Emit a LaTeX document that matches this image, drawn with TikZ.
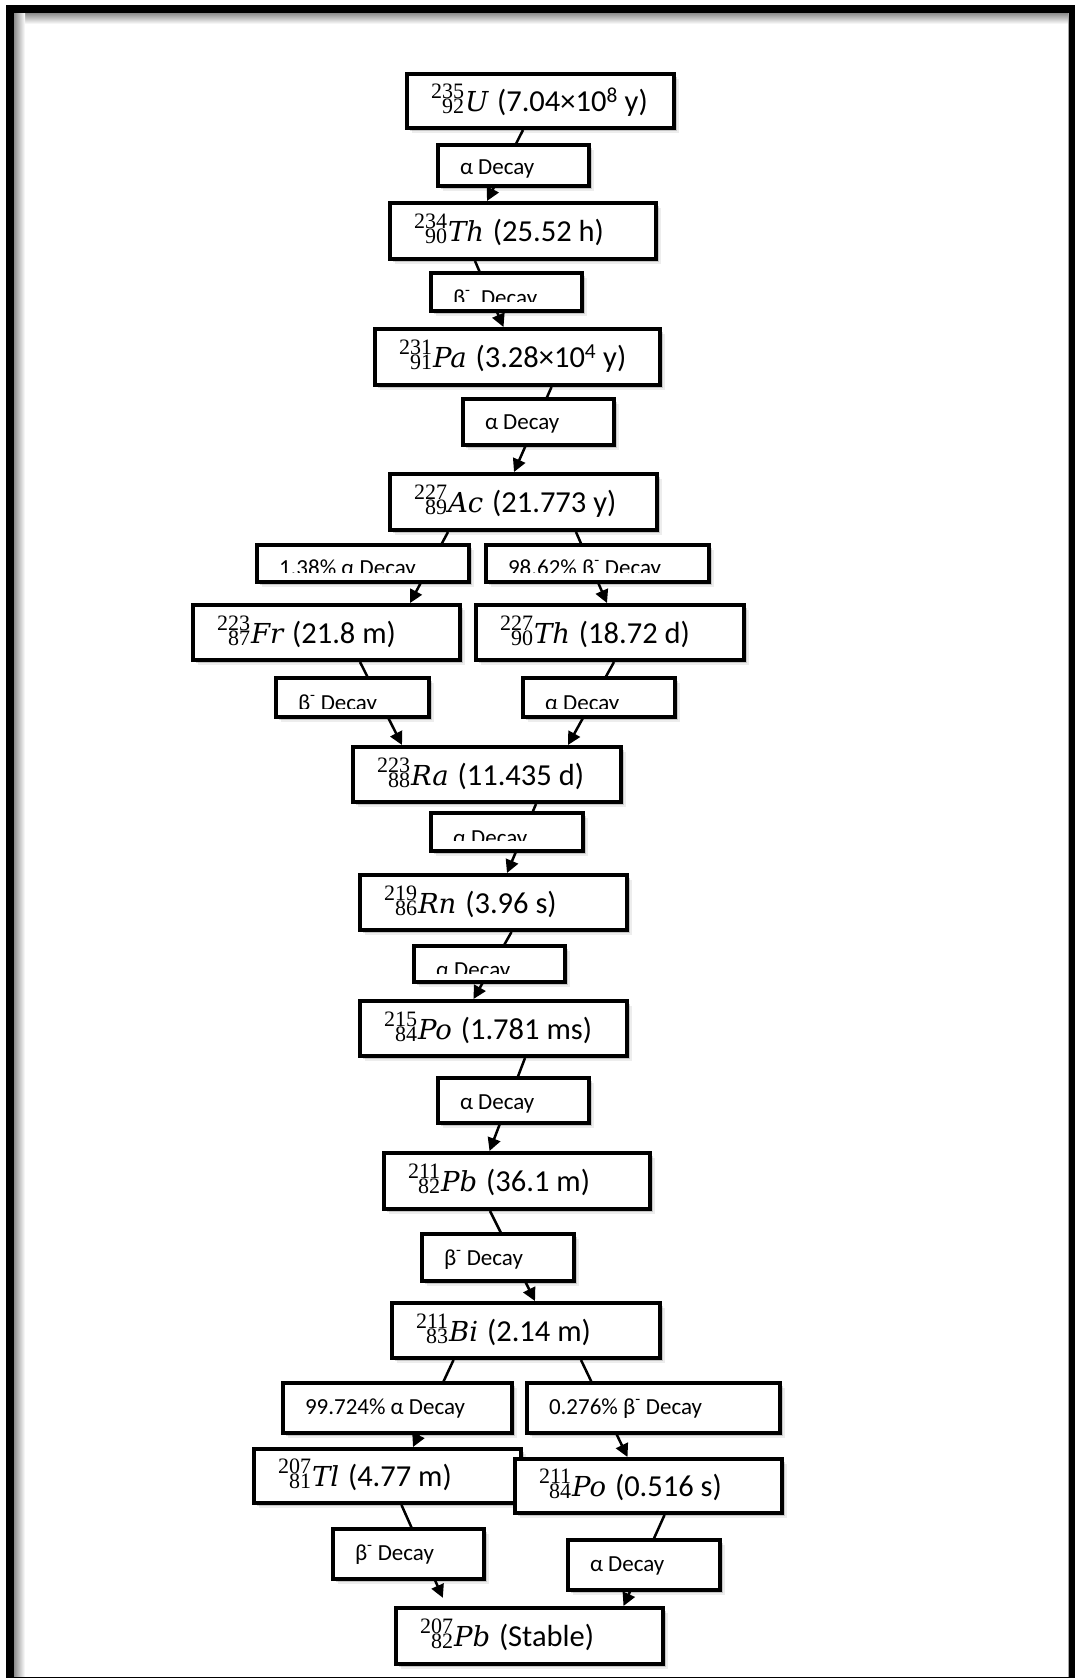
\documentclass[tikz,border=0pt]{standalone}
\usepackage{fontspec}
\newfontfamily\carl{Carlito}
\newfontfamily\lser{Liberation Serif}
\newfontfamily\dser{DejaVu Serif}
\usetikzlibrary{arrows.meta,shadows}
\pgfdeclarelayer{back}\pgfdeclarelayer{bg}\pgfsetlayers{back,bg,main}
\newsavebox\nucA \newsavebox\nucB \newlength\nucw
\newcommand\nuc[3]{{%
 \sbox\nucA{\lser\fontsize{22}{22}\selectfont #1}%
 \sbox\nucB{\lser\fontsize{22}{22}\selectfont #2}%
 \setlength\nucw{\wd\nucA}\ifdim\wd\nucB>\nucw\setlength\nucw{\wd\nucB}\fi
 \makebox[\nucw][r]{\raisebox{13pt}{\usebox\nucA}}\llap{\raisebox{-2pt}{\usebox\nucB}}%
 \kern1pt{\dser\fontsize{27.5}{27.5}\selectfont\itshape #3}\kern2pt}}
\newcommand\bmi{β\textsuperscript{-}}
\tikzset{
 x=1pt,y=-1pt,
 boxshadow/.style={drop shadow={shadow xshift=3pt,shadow yshift=-3pt,opacity=.16,fill=black},
                   drop shadow={shadow xshift=5pt,shadow yshift=-5pt,opacity=.07,fill=black}},
 nucstyle/.style={draw,line width=4pt,fill=white,inner sep=0pt,boxshadow,
                  font=\carl\fontsize{30.5}{36}\selectfont},
 decstyle/.style={draw,line width=3.8pt,fill=white,inner sep=0pt,boxshadow,
                  font=\carl\fontsize{23}{27}\selectfont},
 conn/.style={line width=2.5pt,-{Triangle[length=13pt,width=13pt]}}
}
% name x1 y1 x2 y2 text
\newcommand\nucbox[6]{%
 \pgfmathsetmacro\bxcx{(#2+#4)/2}%
 \pgfmathsetmacro\bxcy{(#3+#5)/2}%
 \pgfmathsetmacro\bxW{#4-#2-4}%
 \pgfmathsetmacro\bxH{#5-#3-4}%
 \node[nucstyle,minimum width=\bxW pt,minimum height=\bxH pt] (#1) at (\bxcx,\bxcy)
 {\raisebox{-10.5pt}[0pt][0pt]{\makebox[\dimexpr\bxW pt-48pt\relax][l]{#6}}};}
% name x1 y1 x2 y2 baseline clip text
\newcommand\decbox[8]{%
 \pgfmathsetmacro\bxcx{(#2+#4)/2}%
 \pgfmathsetmacro\bxcy{(#3+#5)/2}%
 \pgfmathsetmacro\bxW{#4-#2-4}%
 \pgfmathsetmacro\bxH{#5-#3-4}%
 \pgfmathsetmacro\bxdy{#6-\bxcy}%
 \node[decstyle,minimum width=\bxW pt,minimum height=\bxH pt] (#1) at (\bxcx,\bxcy)
 {\raisebox{-\bxdy pt}[0pt][0pt]{\makebox[\dimexpr\bxW pt-44pt\relax][l]{#8}}};
 \ifx&#7&\else\fill[white] (#2+4,#7) rectangle (#4-4,#5-4);\fi}
\begin{document}
\begin{tikzpicture}
\useasboundingbox (0,0) rectangle (1075,1678);
\begin{pgfonlayer}{back}
\fill[white] (0,0) rectangle (1075,1678);
\shade[top color=black!45,bottom color=white] (14,13) rectangle (1069,24);
\shade[left color=black!45,right color=white] (14,13) rectangle (25,1678);
\draw[black!35,line width=1pt] (1068,13) -- (1068,1678);
\draw[line width=8.3pt] (10.2,9.2) rectangle (1073.2,1681.2);
\end{pgfonlayer}

\nucbox{u}{405}{72}{676}{130}{\nuc{235}{92}{U} (7.04×10\textsuperscript{8} y)}
\nucbox{th}{388}{201}{658}{261}{\nuc{234}{90}{Th} (25.52 h)}
\nucbox{pa}{373}{327}{662}{387}{\nuc{231}{91}{Pa} (3.28×10\textsuperscript{4} y)}
\nucbox{ac}{388}{472}{659}{532}{\nuc{227}{89}{Ac} (21.773 y)}
\nucbox{fr}{191}{603}{462}{662}{\nuc{223}{87}{Fr} (21.8 m)}
\nucbox{tht}{474}{603}{746}{662}{\nuc{227}{90}{Th} (18.72 d)}
\nucbox{ra}{351}{745}{623}{804}{\nuc{223}{88}{Ra} (11.435 d)}
\nucbox{rn}{358}{873}{629}{932}{\nuc{219}{86}{Rn} (3.96 s)}
\nucbox{po}{358}{999}{629}{1058}{\nuc{215}{84}{Po} (1.781 ms)}
\nucbox{pb}{382}{1151}{652}{1211}{\nuc{211}{82}{Pb} (36.1 m)}
\nucbox{bi}{390}{1301}{662}{1360}{\nuc{211}{83}{Bi} (2.14 m)}
\nucbox{tl}{252}{1447}{523}{1505}{\nuc{207}{81}{Tl} (4.77 m)}
\nucbox{pob}{513}{1457}{784}{1515}{\nuc{211}{84}{Po} (0.516 s)}
\nucbox{pbs}{394}{1606}{665}{1666}{\nuc{207}{82}{Pb} (Stable)}

\decbox{l1}{436}{143}{591}{188}{174.5}{}{α Decay}
\decbox{l2}{429}{271}{584}{313}{305}{302}{\bmi\ \ Decay}
\decbox{l3}{461}{397}{616}{447}{429}{}{α Decay}
\decbox{l4}{255}{543}{471}{584}{575}{573}{1.38\% α Decay}
\decbox{l5}{484}{543}{711}{584}{575}{573}{98.62\% \bmi\ Decay}
\decbox{l6}{274}{676}{431}{719}{710}{709}{\bmi\ Decay}
\decbox{l7}{521}{676}{677}{719}{710}{709}{α Decay}
\decbox{l8}{429}{811}{585}{853}{845.5}{841}{α Decay}
\decbox{l9}{412}{944}{567}{984}{977}{974}{α Decay}
\decbox{l10}{436}{1076}{591}{1125}{1109}{}{α Decay}
\decbox{l11}{420}{1232}{576}{1283}{1265}{}{\bmi\ Decay}
\decbox{l12}{281}{1381}{514}{1435}{1414}{}{99.724\% α Decay}
\decbox{l13}{525}{1381}{782}{1435}{1414}{}{0.276\% \bmi\ Decay}
\decbox{l14}{331}{1527}{486}{1581}{1560}{}{\bmi\ Decay}
\decbox{l15}{566}{1538}{722}{1592}{1571}{}{α Decay}

\begin{pgfonlayer}{bg}
\draw[conn] ([xshift=-17.5pt]u.south) -- ([xshift=-36pt]th.north);
\draw[conn] ([xshift=-48pt]th.south) -- ([xshift=-14pt]pa.north);
\draw[conn] ([xshift=34pt]pa.south) -- ([xshift=-9.5pt]ac.north);
\draw[conn] ([xshift=-75.5pt]ac.south) -- ([xshift=83.5pt]fr.north);
\draw[conn] ([xshift=52.5pt]ac.south) -- ([xshift=-3pt]tht.north);
\draw[conn] ([xshift=33.5pt]fr.south) -- ([xshift=-85pt]ra.north);
\draw[conn] ([xshift=4pt]tht.south) -- ([xshift=81pt]ra.north);
\draw[conn] ([xshift=49pt]ra.south) -- ([xshift=13.5pt]rn.north);
\draw[conn] ([xshift=18pt]rn.south) -- ([xshift=-20pt]po.north);
\draw[conn] ([xshift=31.5pt]po.south) -- ([xshift=-27.5pt]pb.north);
\draw[conn] ([xshift=-27pt]pb.south) -- ([xshift=9pt]bi.north);
\draw[conn] ([xshift=-72.5pt]bi.south) -- ([xshift=25.5pt]tl.north);
\draw[conn] ([xshift=55pt]bi.south) -- ([xshift=-21pt]pob.north);
\draw[conn,shorten >=9pt] ([xshift=14pt]tl.south) -- ([xshift=-83pt]pbs.north);
\draw[conn] ([xshift=16pt]pob.south) -- ([xshift=94pt]pbs.north);
\end{pgfonlayer}
\end{tikzpicture}
\end{document}
